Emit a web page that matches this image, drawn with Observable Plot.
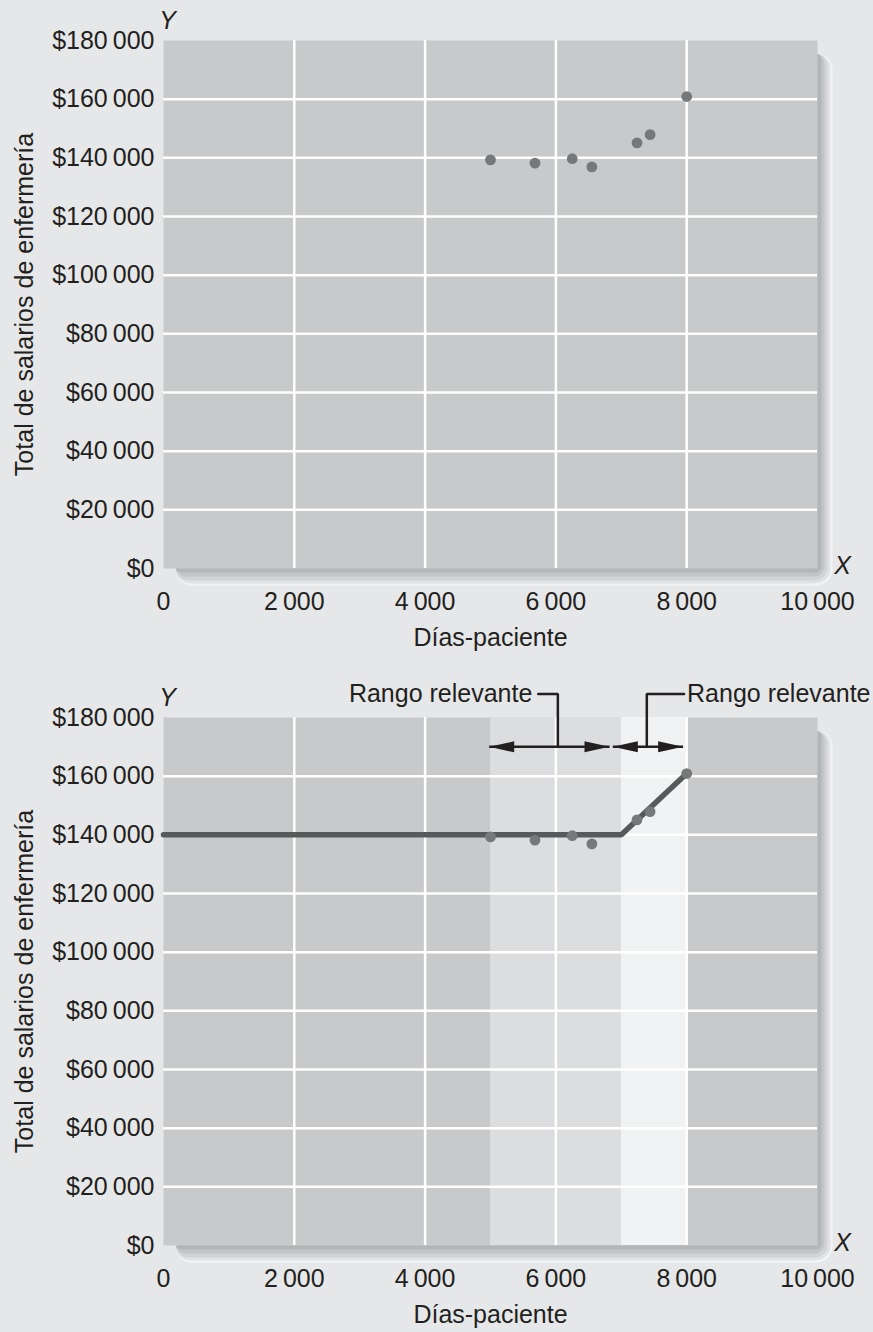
<!DOCTYPE html>
<html><head><meta charset="utf-8">
<script src="https://cdn.jsdelivr.net/npm/d3@7"></script>
<script src="https://cdn.jsdelivr.net/npm/@observablehq/plot@0.6"></script>
<style>
html,body{margin:0;padding:0;background:#e6e7e8;}
#chart{width:873px;height:1332px;overflow:hidden;}
#chart svg{display:block;}
</style></head><body><div id="chart"></div>
<script>
// ---- data ----
const xTicks = [0, 2000, 4000, 6000, 8000, 10000];
const yTicks = [0, 20000, 40000, 60000, 80000, 100000, 120000, 140000, 160000, 180000];
const gridX = [2000, 4000, 6000, 8000];
const gridY = [20000, 40000, 60000, 80000, 100000, 120000, 140000, 160000];
const diasPaciente = [5000, 5680, 6250, 6550, 7240, 7440, 8000];
const salarios = [139300, 138200, 139700, 136900, 145100, 147900, 160900];
const lineaX = [0, 7000, 8000];
const lineaY = [140000, 140000, 160900];
const bandaInicio = [5000, 7000];
const bandaFin = [7000, 8000];
const rangoTexto = ["Rango relevante", "Rango relevante"];
const rangoTextoX = [5640, 8005];
const rangoFlechaDesde = [4980, 6870];
const rangoFlechaHasta = [6820, 7945];
const rangoGuiaX = [6030, 7390];
const rangoGuiaFin = [5730, 7960];
const rangoTextoY = 188000;
const rangoFlechaY = 170000;
const xTitulo = "Días-paciente";
const yTitulo = "Total de salarios de enfermería";

// ---- styles ----
const INK = "#231f20";
const PLOT_BG = "#c8c9cb";
const BAND_FILLS = ["#dcdddf", "#f1f2f3"];
const FONT = "'Liberation Sans', Arial, Helvetica, sans-serif";

const fmt = d => d3.format(",")(d).replace(/,/g, "\u2009");

const headRight = {draw(ctx) { ctx.moveTo(0, 0); ctx.lineTo(-25, -5.5); ctx.lineTo(-25, 5.5); ctx.closePath(); }};
const headLeft = {draw(ctx) { ctx.moveTo(0, 0); ctx.lineTo(25, -5.5); ctx.lineTo(25, 5.5); ctx.closePath(); }};

const puntos = diasPaciente.map((x, i) => ({x, y: salarios[i]}));
const linea = lineaX.map((x, i) => ({x, y: lineaY[i]}));
const bandas = bandaInicio.map((x1, i) => ({x1, x2: bandaFin[i], i}));
const flechas = rangoFlechaDesde.map((x1, i) => ({x1, x2: rangoFlechaHasta[i]}));
const guias = rangoGuiaX.flatMap((gx, i) => [
  {x: rangoGuiaFin[i], y: rangoTextoY, g: i},
  {x: gx, y: rangoTextoY, g: i},
  {x: gx, y: rangoFlechaY, g: i}
]);
const etiquetas = rangoTexto.map((t, i) => ({t, x: rangoTextoX[i], anchor: i === 0 ? "end" : "start"}));

const shadowLayers = [
  {r: -15, b: -17, fill: "#f2f3f4", rx: 16},
  {r: -13, b: -15, fill: "#e1e2e3", rx: 15},
  {r: -10, b: -12, fill: "#d2d3d5", rx: 13},
  {r: -7, b: -8, fill: "#c3c4c6", rx: 10},
  {r: -4, b: -4, fill: "#b4b5b7", rx: 6}
];

function panel(height, marginBottom, second) {
  const marks = [];
  shadowLayers.forEach(s => marks.push(Plot.frame({fill: s.fill, stroke: "none", rx: s.rx,
    insetLeft: 12, insetTop: 13, insetRight: s.r, insetBottom: s.b})));
  marks.push(Plot.frame({fill: PLOT_BG, stroke: "none"}));
  if (second) {
    marks.push(Plot.rect(bandas, {x1: "x1", x2: "x2", fill: d => BAND_FILLS[d.i]}));
  }
  marks.push(Plot.ruleX(gridX, {stroke: "white", strokeWidth: 2.5}));
  marks.push(Plot.ruleY(gridY, {stroke: "white", strokeWidth: 2.5}));
  if (second) {
    marks.push(Plot.line(linea, {x: "x", y: "y", stroke: "#58595b", strokeWidth: 5.5, strokeLinejoin: "miter"}));
  }
  marks.push(Plot.dot(puntos, {x: "x", y: "y", r: 5.4, fill: "#77787a", stroke: "none"}));
  if (second) {
    marks.push(Plot.link(flechas, {x1: "x1", x2: "x2", y1: rangoFlechaY, y2: rangoFlechaY, stroke: INK, strokeWidth: 2.5}));
    marks.push(Plot.dot(flechas, {x: "x1", y: rangoFlechaY, symbol: headLeft, fill: INK, stroke: "none"}));
    marks.push(Plot.dot(flechas, {x: "x2", y: rangoFlechaY, symbol: headRight, fill: INK, stroke: "none"}));
    marks.push(Plot.line(guias, {x: "x", y: "y", z: "g", stroke: INK, strokeWidth: 2.5, strokeLinejoin: "miter"}));
    marks.push(Plot.text(etiquetas.filter(d => d.anchor === "end"), {x: "x", y: rangoTextoY, text: "t", textAnchor: "end", fill: INK, lineAnchor: "middle"}));
    marks.push(Plot.text(etiquetas.filter(d => d.anchor === "start"), {x: "x", y: rangoTextoY, text: "t", textAnchor: "start", fill: INK, lineAnchor: "middle"}));
  }
  marks.push(Plot.text(["Y"], {frameAnchor: "top-left", dx: 4, dy: -20, fontStyle: "italic", fill: INK, textAnchor: "middle", lineAnchor: "middle"}));
  marks.push(Plot.text(["X"], {frameAnchor: "bottom-right", dx: 25, dy: -3, fontStyle: "italic", fill: INK, textAnchor: "middle", lineAnchor: "middle"}));
  marks.push(Plot.text([xTitulo], {frameAnchor: "bottom", dy: 69, fill: INK, textAnchor: "middle", lineAnchor: "middle"}));
  marks.push(Plot.text([yTitulo], {frameAnchor: "left", dx: -139, rotate: -90, fill: INK, textAnchor: "middle", lineAnchor: "middle"}));
  return Plot.plot({
    width: 873, height,
    marginTop: 40, marginBottom, marginLeft: 163, marginRight: 56,
    style: {background: "transparent", fontFamily: FONT, fontSize: "25px", color: INK, overflow: "visible"},
    x: {domain: [0, 10000], ticks: xTicks, tickFormat: fmt, tickSize: 0, tickPadding: 24, label: null},
    y: {domain: [0, 180000], ticks: yTicks, tickFormat: d => "$" + fmt(d), tickSize: 0, tickPadding: 9, label: null},
    marks
  });
}

const root = document.getElementById("chart");
root.appendChild(panel(677, 109, false));
root.appendChild(panel(655, 87, true));
</script></body></html>
